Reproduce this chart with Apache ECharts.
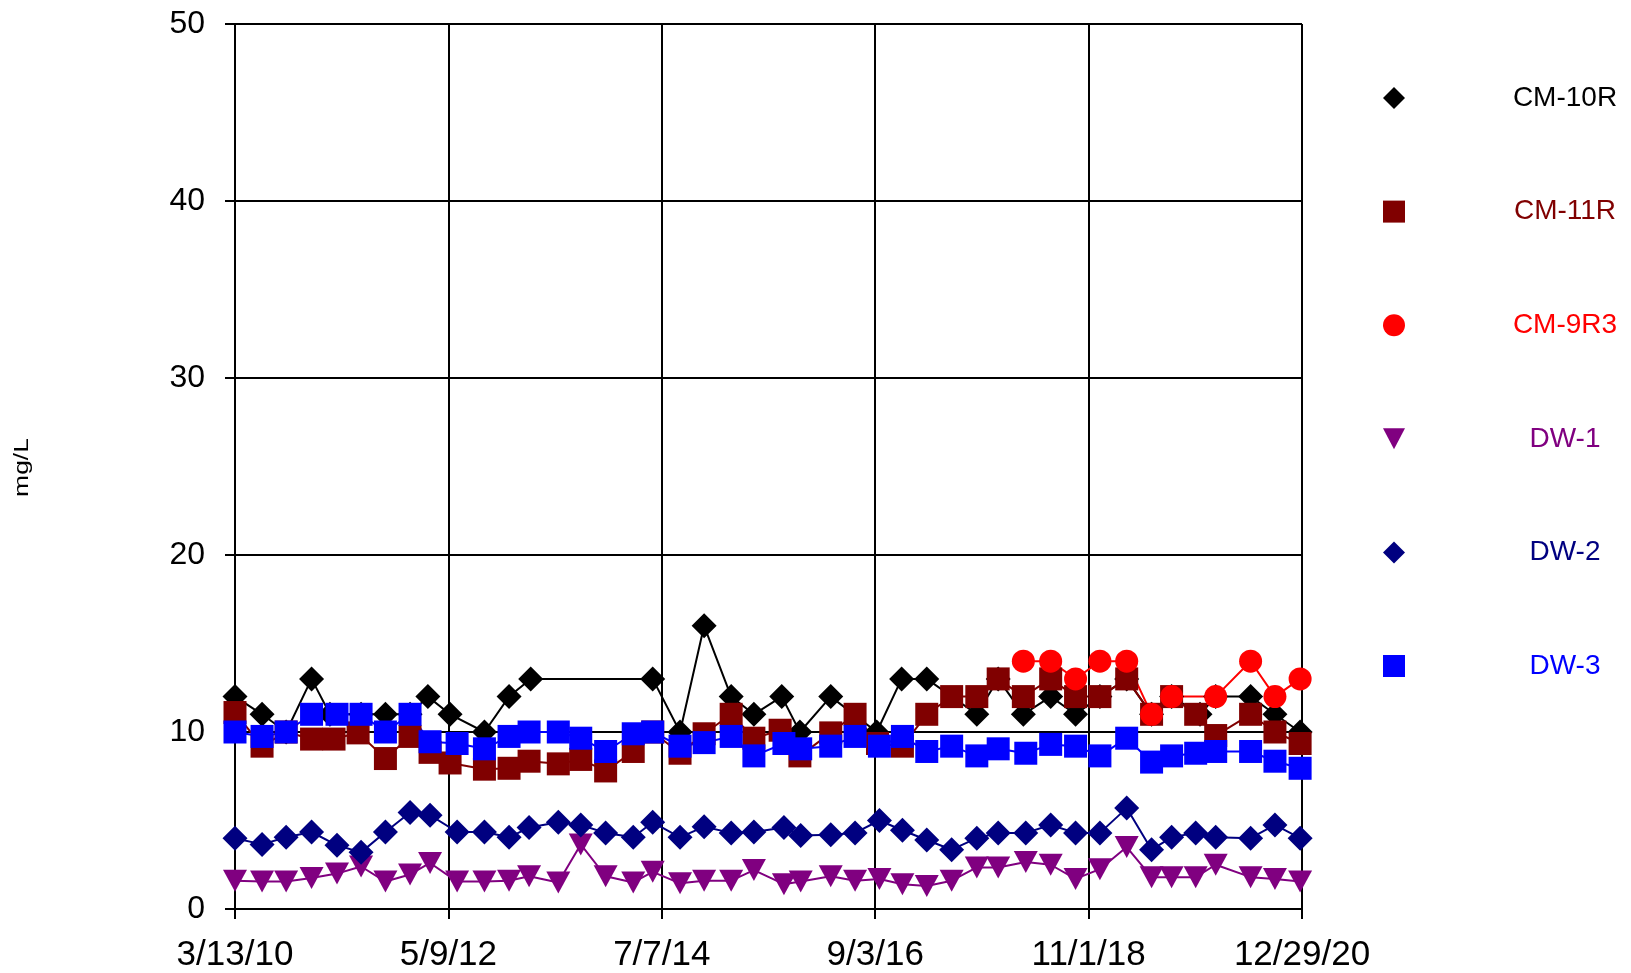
<!DOCTYPE html>
<html>
<head>
<meta charset="utf-8">
<script src="https://cdn.jsdelivr.net/npm/echarts@6/dist/echarts.min.js"></script>
<style>
  html, body { margin: 0; padding: 0; background: #fff; }
  #chart { width: 1631px; height: 973px; }
</style>
</head>
<body>
<div id="chart"></div>
<script>
// ---- data ----
const seriesNames = ['CM-10R', 'CM-11R', 'CM-9R3', 'DW-1', 'DW-2', 'DW-3'];
const xTickLabels = ['3/13/10', '5/9/12', '7/7/14', '9/3/16', '11/1/18', '12/29/20'];
const yTicks = [0, 10, 20, 30, 40, 50];

const cm10r = [
  ['2010-03-13', 12], ['2010-06-21', 11], ['2010-09-18', 10], ['2010-12-21', 13],
  ['2011-02-27', 11], ['2011-06-22', 11], ['2011-09-20', 11], ['2011-12-20', 11],
  ['2012-02-24', 12], ['2012-05-16', 11], ['2012-09-20', 10], ['2012-12-20', 12],
  ['2013-03-10', 13], ['2014-06-04', 13], ['2014-09-13', 10], ['2014-12-11', 16],
  ['2015-03-21', 12], ['2015-06-13', 11], ['2015-09-24', 12], ['2015-11-30', 10],
  ['2016-03-23', 12], ['2016-09-09', 10], ['2016-12-10', 13], ['2017-03-13', 13],
  ['2017-09-14', 11], ['2017-12-02', 13], ['2018-03-05', 11], ['2018-06-14', 12],
  ['2018-09-14', 11], ['2018-12-13', 12], ['2019-03-22', 13], ['2019-06-22', 11],
  ['2019-09-04', 12], ['2019-12-18', 11], ['2020-02-14', 12], ['2020-06-22', 12],
  ['2020-09-20', 11], ['2020-12-22', 10]
];

const cm11r = [
  ['2010-03-13', 11.1], ['2010-06-21', 9.2], ['2010-09-18', 10.0], ['2010-12-21', 9.6],
  ['2011-03-14', 9.6], ['2011-06-11', 9.95], ['2011-09-20', 8.5], ['2011-12-20', 9.75],
  ['2012-03-03', 8.85], ['2012-05-16', 8.25], ['2012-09-20', 7.9], ['2012-12-20', 7.95],
  ['2013-03-04', 8.35], ['2013-06-20', 8.2], ['2013-09-11', 8.45], ['2013-12-12', 7.8],
  ['2014-03-24', 8.9], ['2014-06-04', 10.0], ['2014-09-13', 8.8], ['2014-12-11', 9.9],
  ['2015-03-21', 11], ['2015-06-13', 9.65], ['2015-09-18', 10.1], ['2015-11-30', 8.65],
  ['2016-03-23', 9.95], ['2016-06-21', 11], ['2016-09-12', 9.35], ['2016-12-13', 9.2],
  ['2017-03-13', 11], ['2017-06-13', 12], ['2017-09-14', 12], ['2017-12-02', 13],
  ['2018-03-05', 12], ['2018-06-14', 13], ['2018-09-14', 12], ['2018-12-13', 12],
  ['2019-03-22', 13], ['2019-06-22', 11], ['2019-09-04', 12], ['2019-12-02', 11],
  ['2020-02-14', 9.8], ['2020-06-22', 11], ['2020-09-20', 10], ['2020-12-22', 9.35]
];

const cm9r3 = [
  ['2018-03-05', 14], ['2018-06-14', 14], ['2018-09-14', 13], ['2018-12-13', 14],
  ['2019-03-22', 14], ['2019-06-22', 11], ['2019-09-04', 12], ['2020-02-14', 12],
  ['2020-06-22', 14], ['2020-09-20', 12], ['2020-12-22', 13]
];

const dwDates = [
  '2010-03-13', '2010-06-21', '2010-09-18', '2010-12-21', '2011-03-25', '2011-06-22',
  '2011-09-20', '2011-12-20', '2012-03-03', '2012-06-11', '2012-09-20', '2012-12-20',
  '2013-03-04', '2013-06-20', '2013-09-11', '2013-12-12', '2014-03-24', '2014-06-04',
  '2014-09-13', '2014-12-11', '2015-03-21', '2015-06-13', '2015-10-02', '2015-12-03',
  '2016-03-23', '2016-06-21', '2016-09-19', '2016-12-13', '2017-03-13', '2017-06-13',
  '2017-09-14', '2017-12-02', '2018-03-14', '2018-06-14', '2018-09-14', '2018-12-13',
  '2019-03-22', '2019-06-22', '2019-09-04', '2019-12-02', '2020-02-14', '2020-06-22',
  '2020-09-20', '2020-12-22'
];

const dw1 = [1.6, 1.55, 1.55, 1.75, 2.0, 2.4, 1.55, 1.95, 2.6, 1.55, 1.55,
             1.6, 1.85, 1.5, 3.65, 1.85, 1.5, 2.1, 1.45, 1.6, 1.6, 2.2,
             1.4, 1.55, 1.85, 1.6, 1.7, 1.4, 1.3, 1.6, 2.35, 2.35, 2.65,
             2.5, 1.7, 2.25, 3.5, 1.8, 1.8, 1.8, 2.5, 1.8, 1.7, 1.55];

const dw2 = [4.0, 3.65, 4.05, 4.35, 3.6, 3.2, 4.35, 5.45, 5.3, 4.35, 4.35,
             4.05, 4.6, 4.9, 4.75, 4.3, 4.05, 4.9, 4.05, 4.65, 4.3, 4.35,
             4.6, 4.15, 4.2, 4.3, 5.0, 4.45, 3.9, 3.35, 4.0, 4.3, 4.3,
             4.75, 4.3, 4.3, 5.7, 3.35, 4.05, 4.3, 4.05, 4.0, 4.75, 4.0];

const dw3 = [10.0, 9.75, 10.0, 11.0, 11.0, 11.0, 10.0, 11.0, 9.45, 9.35, 9.05,
             9.75, 10.0, 10.0, 9.65, 8.9, 9.9, 10.0, 9.2, 9.4, 9.75, 8.65,
             9.35, 9.05, 9.2, 9.75, 9.2, 9.75, 8.9, 9.2, 8.65, 9.05, 8.8,
             9.3, 9.2, 8.65, 9.65, 8.3, 8.65, 8.8, 8.9, 8.9, 8.35, 7.95];

// ---- helpers ----
const START = Date.parse('2010-03-13');
const END = Date.parse('2020-12-29');
const DAY = 86400000;
const dayOf = d => (Date.parse(d) - START) / DAY;
const xMax = (END - START) / DAY;           // 3944
const xInterval = xMax / (xTickLabels.length - 1);

function fmtDate(v) {
  const dt = new Date(START + Math.floor(v + 1e-6) * DAY);
  const yy = String(dt.getUTCFullYear() % 100).padStart(2, '0');
  return (dt.getUTCMonth() + 1) + '/' + dt.getUTCDate() + '/' + yy;
}

const pairs = arr => arr.map(p => [dayOf(p[0]), p[1]]);
const dwPairs = vals => dwDates.map((d, i) => [dayOf(d), vals[i]]);

const colors = ['#000000', '#800000', '#FF0000', '#800080', '#000080', '#0000FF'];
const downTri = 'path://M0,0L20,0L10,19Z';
const symbols = ['diamond', 'rect', 'circle', downTri, 'diamond', 'rect'];
const symbolSizes = [25, 23, 23, [24, 22], 25, 23];
const dataSets = [pairs(cm10r), pairs(cm11r), pairs(cm9r3), dwPairs(dw1), dwPairs(dw2), dwPairs(dw3)];

const FONT = '"Liberation Sans", Arial, sans-serif';

const chart = echarts.init(document.getElementById('chart'), null, { renderer: 'canvas' });

chart.setOption({
  animation: false,
  backgroundColor: '#ffffff',
  grid: { left: 235, right: 329, top: 24, bottom: 61, containLabel: false },
  xAxis: {
    type: 'value',
    min: 0,
    max: xMax,
    interval: xInterval,
    axisLine: { show: true, lineStyle: { color: '#000', width: 2 } },
    axisTick: { show: true, inside: false, length: 10, lineStyle: { color: '#000', width: 2 } },
    splitLine: { show: true, lineStyle: { color: '#000', width: 2 } },
    axisLabel: {
      margin: 29, fontSize: 35, color: '#000', fontFamily: FONT,
      showMinLabel: true, showMaxLabel: true,
      formatter: v => fmtDate(v)
    }
  },
  yAxis: {
    type: 'value',
    min: yTicks[0],
    max: yTicks[yTicks.length - 1],
    interval: yTicks[1] - yTicks[0],
    axisLine: { show: true, lineStyle: { color: '#000', width: 2 } },
    axisTick: { show: true, inside: false, length: 10, lineStyle: { color: '#000', width: 2 } },
    splitLine: { show: true, lineStyle: { color: '#000', width: 2 } },
    axisLabel: { margin: 30, fontSize: 32, color: '#000', fontFamily: FONT }
  },
  legend: {
    orient: 'vertical',
    left: 1383,
    top: 84,
    padding: 0,
    itemWidth: 22,
    itemHeight: 22,
    itemGap: 85.6,
    selectedMode: false,
    formatter: '{a|{name}}',
    textStyle: {
      fontSize: 28, fontFamily: FONT,
      rich: { a: { width: 310, align: 'center', fontSize: 28, fontFamily: FONT, lineHeight: 22, height: 22 } }
    },
    data: seriesNames.map((n, i) => ({
      name: n,
      icon: symbols[i],
      itemStyle: { color: colors[i] },
      textStyle: { color: colors[i] }
    }))
  },
  graphic: [{
    type: 'text',
    x: 22.5,
    y: 467.5,
    rotation: Math.PI / 2,
    scaleX: 1.26,
    style: { text: 'mg/L', fontSize: 21, fontFamily: FONT, fill: '#000', align: 'center', verticalAlign: 'middle' }
  }],
  series: seriesNames.map((n, i) => ({
    name: n,
    type: 'line',
    data: dataSets[i],
    symbol: symbols[i],
    symbolSize: symbolSizes[i],
    showAllSymbol: true,
    connectNulls: false,
    lineStyle: { color: colors[i], width: 2 },
    itemStyle: { color: colors[i], borderColor: colors[i], borderWidth: 0 },
    emphasis: { disabled: true }
  }))
});
</script>
</body>
</html>
